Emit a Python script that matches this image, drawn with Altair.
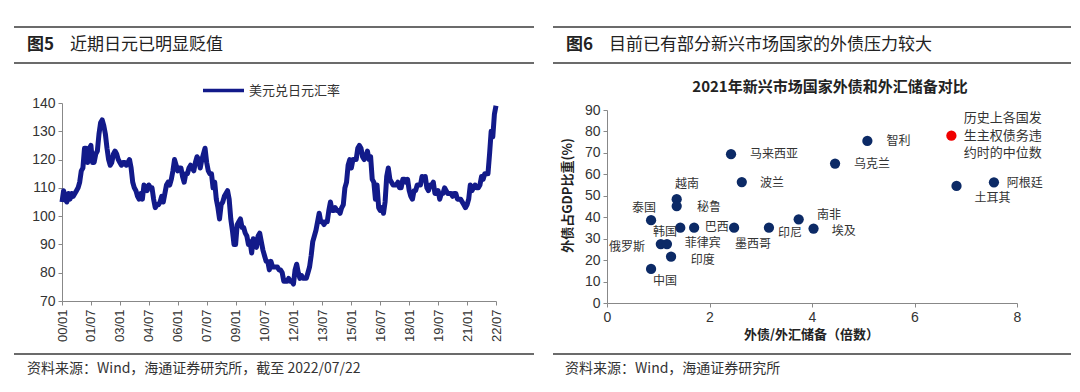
import altair as alt
import pandas as pd

CJK = "Noto Sans CJK SC"
LAT = "Liberation Sans"

# ---------------- Left panel: USD/JPY monthly (2000/01 - 2022/07) ----------------
series_name = "美元兑日元汇率"
usdjpy = [
    105, 109, 106, 105, 108, 106, 108, 107, 108, 109, 110, 112,   # 2000
    116, 117, 124, 124, 119, 124, 125, 119, 119, 122, 123, 129,   # 2001
    133, 134, 132, 129, 124, 120, 118, 119, 122, 123, 122, 120,   # 2002
    119, 118, 119, 119, 118, 119, 120, 117, 112, 110, 109, 107,   # 2003
    106, 108, 106, 111, 110, 109, 111, 110, 110, 106, 103, 104,   # 2004
    104, 105, 107, 105, 108, 111, 112, 111, 113, 116, 120, 118,   # 2005
    116, 117, 117, 114, 112, 115, 115, 117, 118, 117, 116, 119,   # 2006
    121, 120, 117, 120, 122, 124, 119, 116, 115, 115, 110, 112,   # 2007
    106, 103, 99, 104, 105, 107, 108, 109, 106, 99, 95, 90,       # 2008
    90, 97, 98, 99, 96, 96, 94, 93, 90, 91, 87, 92,               # 2009
    90, 89, 93, 94, 91, 88, 86, 84, 84, 81, 84, 82,               # 2010
    82, 82, 82, 81, 81, 80, 77, 77, 77, 78, 77, 77,               # 2011
    76, 81, 83, 80, 78, 79, 78, 78, 78, 80, 82, 86,               # 2012
    91, 93, 95, 98, 101, 98, 98, 97, 98, 98, 102, 105,            # 2013
    102, 102, 103, 102, 102, 101, 103, 104, 110, 112, 118, 120,   # 2014
    117, 120, 120, 120, 124, 125, 124, 121, 120, 121, 123, 120,   # 2015
    121, 113, 112, 106, 111, 103, 102, 103, 101, 105, 114, 117,   # 2016
    113, 112, 111, 111, 111, 112, 110, 110, 113, 113, 112, 113,   # 2017
    109, 107, 106, 109, 109, 111, 111, 111, 114, 113, 114, 110,   # 2018
    109, 111, 111, 112, 108, 108, 109, 106, 108, 108, 110, 109,   # 2019
    108, 108, 108, 107, 108, 108, 106, 106, 106, 105, 104, 103,   # 2020
    104, 106, 111, 109, 110, 111, 110, 110, 111, 114, 113, 115,   # 2021
    115, 115, 122, 130, 128, 136, 139,                            # 2022
]
month_index = list(range(len(usdjpy)))
tick_months = list(range(0, 271, 18))
tick_labels = ["00/01", "01/07", "03/01", "04/07", "06/01", "07/07", "09/01", "10/07",
               "12/01", "13/07", "15/01", "16/07", "18/01", "19/07", "21/01", "22/07"]
y_left_ticks = [70, 80, 90, 100, 110, 120, 130, 140]

# ---------------- Right panel: EM external debt vs FX reserves (2021) ----------------
countries = ["泰国", "越南", "秘鲁", "韩国", "巴西", "墨西哥", "印尼", "俄罗斯", "菲律宾", "印度",
             "中国", "马来西亚", "波兰", "南非", "埃及", "智利", "乌克兰", "土耳其", "阿根廷"]
debt_to_reserves = [0.86, 1.36, 1.36, 1.43, 1.70, 2.48, 3.16, 1.05, 1.17, 1.25,
                    0.86, 2.42, 2.63, 3.74, 4.03, 5.08, 4.45, 6.82, 7.55]
debt_to_gdp = [38.6, 48.4, 45.2, 35.1, 35.1, 35.1, 35.1, 27.5, 27.5, 21.6,
               15.9, 69.4, 56.4, 39.0, 34.7, 75.6, 65.0, 54.6, 56.3]
label_x = [0.72, 1.56, 1.99, 1.13, 2.14, 2.85, 3.57, 0.39, 1.87, 1.87,
           1.13, 3.26, 3.22, 4.33, 4.62, 5.69, 5.17, 7.52, 8.15]
label_y = [44.3, 55.5, 44.8, 33.1, 35.6, 27.6, 32.6, 26.1, 28.0, 20.0,
           10.3, 69.5, 56.0, 41.0, 33.4, 75.6, 64.8, 49.0, 56.0]
median_ratio = [6.72]
median_debt = [78.0]
note_lines = ["历史上各国发", "生主权债务违", "约时的中位数"]
note_x = [6.96, 6.96, 6.96]
note_y = [86.3, 77.9, 70.0]
x_right_ticks = [0, 2, 4, 6, 8]
y_right_ticks = [0, 10, 20, 30, 40, 50, 60, 70, 80, 90]

LINE_BLUE = "#121A8A"
NAVY = "#0C2A66"
RULE = "#3a3a3a"

one = pd.DataFrame({"k": [0]})


def rule(x1, x2, y, w=1.5):
    return alt.Chart(one).mark_rule(color=RULE, strokeWidth=w).encode(
        x=alt.value(x1), x2=alt.value(x2), y=alt.value(y))


def txt(t, x, y, size, weight="normal", color="#222", align="left", font=CJK):
    return alt.Chart(one).mark_text(text=t, align=align, baseline="middle", font=font,
                                    fontSize=size, fontWeight=weight, color=color).encode(
        x=alt.value(x), y=alt.value(y))


# ---- left chart ----
df_left = pd.DataFrame({"m": month_index, "v": usdjpy, "s": series_name})
label_expr = "[" + ",".join("'%s'" % t for t in tick_labels) + "][round(datum.value/18)]"

line = alt.Chart(df_left).mark_line(strokeWidth=5, strokeJoin="round").encode(
    x=alt.X("m:Q", scale=alt.Scale(domain=[0, 270], nice=False, zero=False),
            axis=alt.Axis(values=tick_months, labelExpr=label_expr, labelAngle=270,
                          title=None, grid=False, labelFont=LAT, labelFontSize=13,
                          labelColor="#333", domainColor="#888", tickColor="#888",
                          tickSize=4, labelPadding=4, labelFlush=False, labelOverlap=False)),
    y=alt.Y("v:Q", scale=alt.Scale(domain=[70, 140], nice=False, zero=False),
            axis=alt.Axis(values=y_left_ticks, title=None, grid=False, labelFont=LAT,
                          labelFontSize=14, labelColor="#333", domainColor="#888",
                          tickColor="#888", tickSize=4, labelPadding=3)),
    color=alt.Color("s:N", scale=alt.Scale(range=[LINE_BLUE]),
                    legend=alt.Legend(orient="none", legendX=139, legendY=-35, title=None,
                                      symbolType="stroke", symbolSize=1681,
                                      symbolStrokeWidth=3.5, labelFont=CJK,
                                      labelFontSize=13, labelColor="#333",
                                      labelOffset=3, padding=0)),
)

left = alt.layer(
    line,
    rule(-48, 472, -76), rule(-48, 472, -40), rule(-48, 472, 251),
    txt("图5", -35, -58, 17, weight="bold"),
    txt("近期日元已明显贬值", 8, -58, 17),
    txt("资料来源：Wind，海通证券研究所，截至 2022/07/22", -35, 266, 14, color="#333"),
).properties(width=434, height=198)

# ---- right chart ----
xs = alt.Scale(domain=[0, 8], nice=False, zero=False)
ys = alt.Scale(domain=[0, 90], range=[200, 7], nice=False, zero=False)
x_axis = alt.Axis(values=x_right_ticks, title="外债/外汇储备（倍数）", grid=False,
                  labelFont=LAT, labelFontSize=14, labelColor="#333", domainColor="#888",
                  tickColor="#888", tickSize=4, labelPadding=3, labelFlush=False,
                  titleFont=CJK, titleFontSize=13, titleFontWeight="bold", titleColor="#222",
                  titleX=204, titleY=31, titleBaseline="middle", titleAlign="center")
y_axis = alt.Axis(values=y_right_ticks, title="外债占GDP比重(%)", grid=False,
                  labelFont=LAT, labelFontSize=14, labelColor="#333", domainColor="#888",
                  tickColor="#888", tickSize=4, labelPadding=3,
                  titleFont=CJK, titleFontSize=13, titleFontWeight="bold", titleColor="#222",
                  titleX=-40, titleY=92, titleAngle=270, titleBaseline="middle",
                  titleAlign="center")

df_pts = pd.DataFrame({"c": countries, "r": debt_to_reserves, "d": debt_to_gdp,
                       "lx": label_x, "ly": label_y})
df_med = pd.DataFrame({"r": median_ratio, "d": median_debt})
df_note = pd.DataFrame({"t": note_lines, "lx": note_x, "ly": note_y})

pts = alt.Chart(df_pts).mark_circle(size=105, color=NAVY, opacity=1).encode(
    x=alt.X("r:Q", scale=xs, axis=x_axis), y=alt.Y("d:Q", scale=ys, axis=y_axis))
med = alt.Chart(df_med).mark_circle(size=105, color="#F00000", opacity=1).encode(
    x=alt.X("r:Q", scale=xs, axis=x_axis), y=alt.Y("d:Q", scale=ys, axis=y_axis))
labs = alt.Chart(df_pts).mark_text(font=CJK, fontSize=12, color="#333").encode(
    x=alt.X("lx:Q", scale=xs, axis=x_axis), y=alt.Y("ly:Q", scale=ys, axis=y_axis), text="c:N")
note = alt.Chart(df_note).mark_text(font=CJK, fontSize=13, color="#333", align="left").encode(
    x=alt.X("lx:Q", scale=xs, axis=x_axis), y=alt.Y("ly:Q", scale=ys, axis=y_axis), text="t:N")

right = alt.layer(
    pts, med, labs, note,
    rule(-54, 464, -76), rule(-54, 464, -40), rule(-54, 464, 251),
    txt("图6", -41, -58, 17, weight="bold"),
    txt("目前已有部分新兴市场国家的外债压力较大", 2, -58, 17),
    txt("2021年新兴市场国家外债和外汇储备对比", 223, -16, 15, weight="bold", align="center"),
    txt("资料来源：Wind，海通证券研究所", -42, 266, 14, color="#333"),
).properties(width=410, height=200)

chart = alt.hconcat(left, right, spacing=111, bounds="flush").properties(
    padding={"left": 5, "top": 18, "right": 0, "bottom": 5}
).configure_view(stroke=None)

chart.save("out.html", embed_options={"renderer": "svg", "actions": False})
